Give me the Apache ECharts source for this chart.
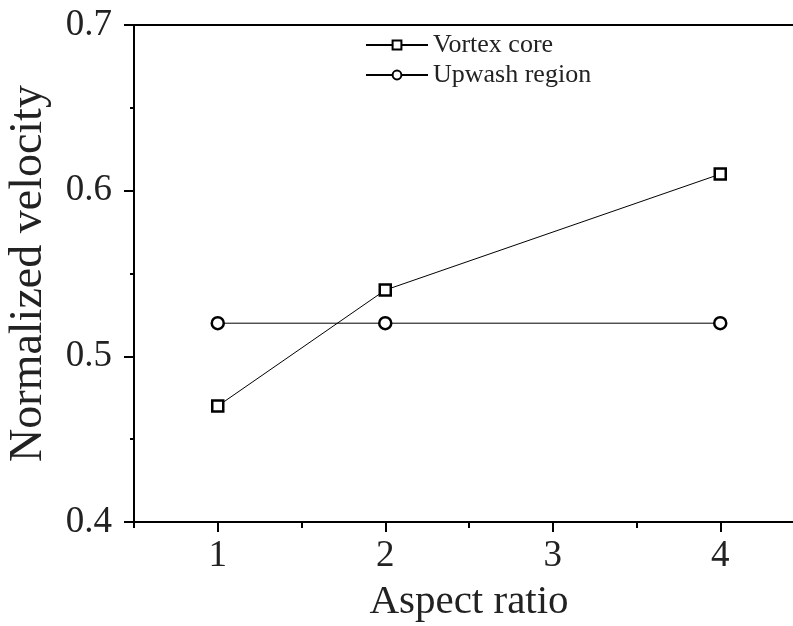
<!DOCTYPE html>
<html>
<head>
<meta charset="utf-8">
<script src="https://cdn.jsdelivr.net/npm/echarts@6/dist/echarts.min.js"></script>
<style>html,body{margin:0;padding:0;background:#fff}#c{width:793px;height:626px}</style>
</head>
<body>
<div id="c"></div>
<script>
const aspectRatio = [1, 2, 4];
const vortexCore = [0.47, 0.54, 0.61];
const upwashRegion = [0.52, 0.52, 0.52];
const seriesNames = ['Vortex core', 'Upwash region'];
const xTickValues = [1, 2, 3, 4];
const xTitle = 'Aspect ratio';
const yTitle = 'Normalized velocity';

const font = '"Liberation Serif", "Times New Roman", serif';
const chart = echarts.init(document.getElementById('c'), null, {renderer: 'canvas'});
function pairs(xs, ys) { return xs.map((x, i) => [x, ys[i]]); }
chart.setOption({
  animation: false,
  backgroundColor: '#fff',
  grid: {left: 134, top: 25, right: -11, bottom: 104, outerBoundsMode: 'none', containLabel: false,
         show: true, borderColor: '#000', borderWidth: 2, backgroundColor: 'transparent'},
  legend: {
    top: 27, left: 360, orient: 'vertical', itemGap: 4, itemWidth: 62, itemHeight: 11,
    textStyle: {fontFamily: font, fontSize: 26, color: '#222'},
    data: seriesNames
  },
  xAxis: [{
    type: 'value', min: 0.5, max: 4.5,
    name: xTitle, nameLocation: 'middle', nameGap: 60,
    nameTextStyle: {fontFamily: font, fontSize: 41, color: '#222'},
    axisLine: {lineStyle: {color: '#000', width: 2}},
    axisTick: {show: true, inside: false, length: 10, lineStyle: {color: '#000', width: 2}, customValues: xTickValues},
    axisLabel: {fontFamily: font, fontSize: 37, color: '#222', margin: 16, customValues: xTickValues},
    splitLine: {show: false}
  }, {
    type: 'value', min: 0.5, max: 4.5, interval: 0.5, position: 'bottom', offset: 0,
    axisLine: {show: false},
    axisTick: {show: true, inside: false, length: 6, lineStyle: {color: '#000', width: 2}},
    axisLabel: {show: false},
    splitLine: {show: false}
  }],
  yAxis: {
    type: 'value', min: 0.4, max: 0.7, interval: 0.1,
    name: yTitle, nameLocation: 'middle', nameGap: 82,
    nameTextStyle: {fontFamily: font, fontSize: 46, color: '#222'},
    axisLine: {lineStyle: {color: '#000', width: 2}},
    axisTick: {show: true, inside: false, length: 10, lineStyle: {color: '#000', width: 2}},
    minorTick: {show: true, splitNumber: 2, length: 4, lineStyle: {color: '#000', width: 2}},
    axisLabel: {fontFamily: font, fontSize: 37, color: '#222', margin: 22, formatter: v => v.toFixed(1)},
    splitLine: {show: false}
  },
  series: [
    {
      name: seriesNames[0], type: 'line', data: pairs(aspectRatio, vortexCore),
      symbol: 'rect', symbolSize: 11,
      lineStyle: {color: '#000', width: 1},
      itemStyle: {color: '#fff', borderColor: '#000', borderWidth: 2.5}
    },
    {
      name: seriesNames[1], type: 'line', data: pairs(aspectRatio, upwashRegion),
      symbol: 'circle', symbolSize: 12,
      lineStyle: {color: '#000', width: 1},
      itemStyle: {color: '#fff', borderColor: '#000', borderWidth: 2.5}
    }
  ]
});
</script>
</body>
</html>
